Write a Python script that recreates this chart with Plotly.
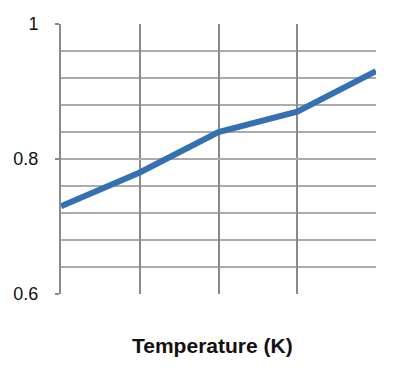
import plotly.graph_objects as go

x_points = [0, 1, 2, 3, 4]
y_values = [0.73, 0.78, 0.84, 0.87, 0.93]
y_tick_vals = [0.6, 0.8, 1.0]
y_tick_text = ["0.6", "0.8", "1"]
x_title = "Temperature (K)"

fig = go.Figure()
fig.add_trace(go.Scatter(x=x_points, y=y_values, mode="lines",
                         line=dict(color="#3371B2", width=6), hoverinfo="skip"))

fig.update_layout(
    width=415, height=376,
    margin=dict(l=61, r=39, t=24, b=82),
    paper_bgcolor="white", plot_bgcolor="white",
    showlegend=False,
    font=dict(family="Liberation Sans, Arial, sans-serif", color="#111111"),
    annotations=[dict(text="<b>" + x_title + "</b>", xref="paper", yref="paper",
                      x=0.481, y=-0.19, xanchor="center", yanchor="middle",
                      showarrow=False, font=dict(size=21, color="#111111"))],
)
fig.update_xaxes(
    range=[0, 4], showticklabels=False, ticks="",
    showgrid=True, gridcolor="#8a8a8a", gridwidth=2,
    tickvals=[1, 2, 3, 4],
    zeroline=False, showline=False,
)
fig.update_yaxes(
    range=[0.6, 1.0], tickvals=y_tick_vals, ticktext=y_tick_text,
    ticks="outside", ticklen=4, tickwidth=2, tickcolor="#8a8a8a",
    tickfont=dict(size=18, color="#111111"), ticklabelstandoff=13,
    showgrid=True, gridcolor="#ababab", gridwidth=2,
    minor=dict(dtick=0.04, tick0=0.6, showgrid=True, gridcolor="#ababab", gridwidth=2, ticks=""),
    showline=True, linecolor="#8a8a8a", linewidth=2,
    zeroline=False,
)
fig.write_html("out.html", config={"displayModeBar": False},
               post_script="document.body.style.margin='0';")
